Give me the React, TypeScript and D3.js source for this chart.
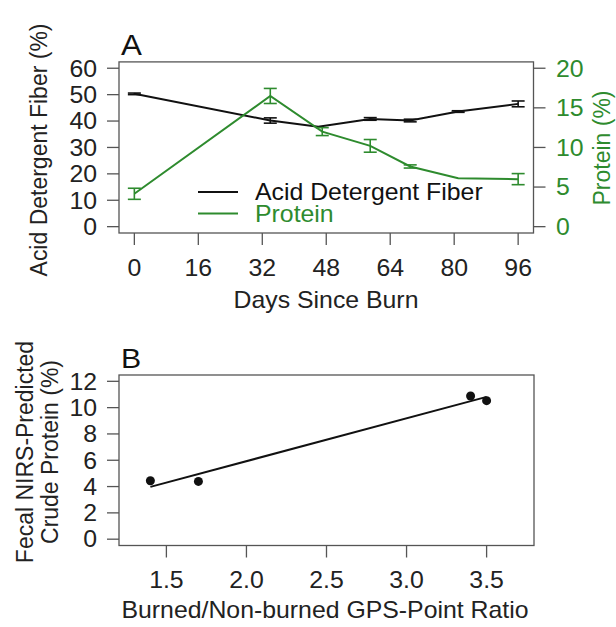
import React from "react";
import * as d3 from "d3";

// Panel A data
const adfDays = [0, 34, 46, 59, 69, 81, 96];
const adfValues = [50.3, 40.2, 37.8, 40.8, 40.2, 43.6, 46.5];
const adfErr = [0.3, 1.0, 0, 0.5, 0.5, 0.3, 1.1];
const protDays = [0, 34, 47, 59, 69, 81, 96];
const protValues = [4.15, 16.5, 12.0, 10.2, 7.6, 6.1, 6.0];
const protErr = [0.7, 0.95, 0.5, 0.8, 0.2, 0, 0.7];
const dayTicks = [0, 16, 32, 48, 64, 80, 96];
const adfTicks = [0, 10, 20, 30, 40, 50, 60];
const protTicks = [0, 5, 10, 15, 20];

// Panel B data
const ratioValues = [1.4, 1.7, 3.4, 3.5];
const crudeProtein = [4.44, 4.39, 10.88, 10.53];
const ratioTicks = ["1.5", "2.0", "2.5", "3.0", "3.5"];
const cpTicks = [0, 2, 4, 6, 8, 10, 12];

const GREEN = "#2e8b2e";
const FONT = "'Liberation Sans', Arial, sans-serif";
const FS = 23;
const SX = 1.08;

type TProps = {
  x: number;
  y: number;
  anchor?: "start" | "middle" | "end";
  size?: number;
  fill?: string;
  dy?: string;
  rotate?: boolean;
  children: React.ReactNode;
};

function T({ x, y, anchor = "start", size = FS, fill = "#222", dy, rotate, children }: TProps) {
  const tr = rotate
    ? `translate(${x},${y}) rotate(-90) scale(1,${SX})`
    : `translate(${x},${y}) scale(${SX},1)`;
  return (
    <text transform={tr} textAnchor={anchor} fontSize={size} fill={fill} dy={dy}>
      {children}
    </text>
  );
}

export default function App() {
  // Panel A scales
  const xA = d3.scaleLinear().domain([-3.84, 99.84]).range([119, 533.5]);
  const yL = d3.scaleLinear().domain([-2.4, 62.4]).range([233, 61.9]);
  const yR = d3.scaleLinear().domain([-0.8, 20.8]).range([233, 61.9]);
  const adfPts = adfDays.map((d, i) => [d, adfValues[i], adfErr[i]]);
  const protPts = protDays.map((d, i) => [d, protValues[i], protErr[i]]);
  const adfLine = d3.line<number[]>().x((d) => xA(d[0])).y((d) => yL(d[1]));
  const protLine = d3.line<number[]>().x((d) => xA(d[0])).y((d) => yR(d[1]));

  // Panel B scales
  const xB = d3.scaleLinear().domain([1.204, 3.796]).range([119, 534]);
  const yB = d3.scaleLinear().domain([-0.48, 12.48]).range([545.5, 375]);
  const mx = d3.mean(ratioValues)!;
  const my = d3.mean(crudeProtein)!;
  const sxy = d3.sum(ratioValues.map((x, i) => (x - mx) * (crudeProtein[i] - my)));
  const sxx = d3.sum(ratioValues.map((x) => (x - mx) ** 2));
  const slope = sxy / sxx;
  const icpt = my - slope * mx;
  const [xmin, xmax] = d3.extent(ratioValues) as [number, number];
  const fitLine = d3.line<number>().x((x) => xB(x)).y((x) => yB(icpt + slope * x));

  const cap = 6.5;
  const axisColor = "#555";

  const errBars = (pts: number[][], y: d3.ScaleLinear<number, number>, color: string) =>
    pts
      .filter((p) => p[2] > 0)
      .map((p, i) => {
        const x = xA(p[0]);
        const y1 = y(p[1] - p[2]);
        const y2 = y(p[1] + p[2]);
        return (
          <g key={i} stroke={color} strokeWidth={1.6}>
            <line x1={x} x2={x} y1={y1} y2={y2} />
            <line x1={x - cap} x2={x + cap} y1={y1} y2={y1} />
            <line x1={x - cap} x2={x + cap} y1={y2} y2={y2} />
          </g>
        );
      });

  return (
    <svg width={616} height={627} style={{ position: "absolute", left: 0, top: 0 }} fontFamily={FONT}>
      <rect width={616} height={627} fill="#fff" />
      {/* ---------- Panel A ---------- */}
      <T x={121} y={55} size={29} fill="#111">A</T>
      <rect x={119} y={61.9} width={414.5} height={171.1} fill="none" stroke={axisColor} strokeWidth={1.3} />
      {adfTicks.map((t) => (
        <g key={"l" + t}>
          <line x1={107} x2={119} y1={yL(t)} y2={yL(t)} stroke={axisColor} strokeWidth={1.3} />
          <T x={97} y={yL(t)} dy="0.36em" anchor="end">{t}</T>
        </g>
      ))}
      <T x={47} y={150} anchor="middle" rotate>Acid Detergent Fiber (%)</T>
      {protTicks.map((t) => (
        <g key={"r" + t}>
          <line x1={533.5} x2={545.5} y1={yR(t)} y2={yR(t)} stroke={axisColor} strokeWidth={1.3} />
          <T x={556} y={yR(t)} dy="0.36em" fill={GREEN}>{t}</T>
        </g>
      ))}
      <T x={610} y={148} anchor="middle" fill={GREEN} rotate>Protein (%)</T>
      {dayTicks.map((t) => (
        <g key={"b" + t}>
          <line x1={xA(t)} x2={xA(t)} y1={233} y2={245} stroke={axisColor} strokeWidth={1.3} />
          <T x={xA(t)} y={276} anchor="middle">{t}</T>
        </g>
      ))}
      <T x={326} y={308} anchor="middle">Days Since Burn</T>
      {/* series */}
      <path d={adfLine(adfPts)!} fill="none" stroke="#111" strokeWidth={2} />
      {errBars(adfPts, yL, "#111")}
      <path d={protLine(protPts)!} fill="none" stroke={GREEN} strokeWidth={2} />
      {errBars(protPts, yR, GREEN)}
      {/* legend */}
      <line x1={198} x2={238} y1={192} y2={192} stroke="#111" strokeWidth={2} />
      <T x={255} y={200} fill="#111">Acid Detergent Fiber</T>
      <line x1={198} x2={238} y1={213.5} y2={213.5} stroke={GREEN} strokeWidth={2} />
      <T x={255} y={222} fill={GREEN}>Protein</T>

      {/* ---------- Panel B ---------- */}
      <T x={121} y={368} size={28} fill="#111">B</T>
      <rect x={119} y={375} width={415} height={170.5} fill="none" stroke={axisColor} strokeWidth={1.3} />
      {cpTicks.map((t) => (
        <g key={"bl" + t}>
          <line x1={107} x2={119} y1={yB(t)} y2={yB(t)} stroke={axisColor} strokeWidth={1.3} />
          <T x={97} y={yB(t)} dy="0.36em" anchor="end">{t}</T>
        </g>
      ))}
      <T x={33} y={452} anchor="middle" rotate>Fecal NIRS-Predicted</T>
      <T x={58} y={452} anchor="middle" rotate>Crude Protein (%)</T>
      {ratioTicks.map((t) => (
        <g key={"bb" + t}>
          <line x1={xB(+t)} x2={xB(+t)} y1={545.5} y2={557.5} stroke={axisColor} strokeWidth={1.3} />
          <T x={xB(+t)} y={588} anchor="middle">{t}</T>
        </g>
      ))}
      <T x={325} y={618} anchor="middle">Burned/Non-burned GPS-Point Ratio</T>
      <path d={fitLine([xmin, xmax])!} fill="none" stroke="#111" strokeWidth={2} />
      {ratioValues.map((x, i) => (
        <circle key={i} cx={xB(x)} cy={yB(crudeProtein[i])} r={4.5} fill="#111" />
      ))}
    </svg>
  );
}
